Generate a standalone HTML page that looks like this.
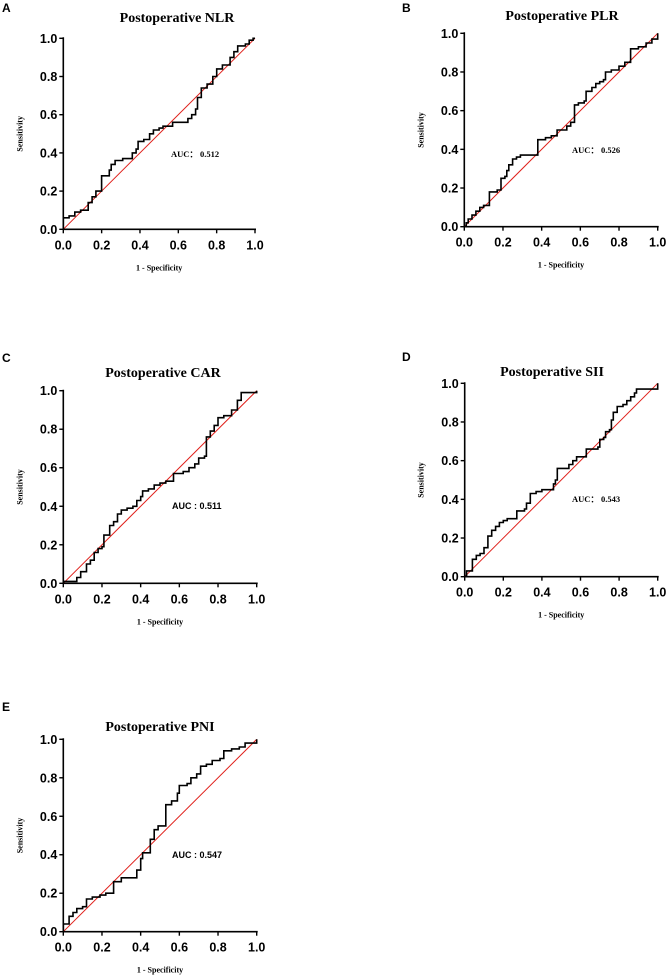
<!DOCTYPE html>
<html><head><meta charset="utf-8"><style>
body{margin:0;background:#fff;}
svg{display:block;}
</style></head><body>
<svg id="fig" width="667" height="977" viewBox="0 0 667 977" xmlns="http://www.w3.org/2000/svg"></svg>
<script>
const ticks = [0, 0.2, 0.4, 0.6, 0.8, 1.0];
const tickLabels = ["0.0","0.2","0.4","0.6","0.8","1.0"];
const titles = ["Postoperative NLR","Postoperative PLR","Postoperative CAR","Postoperative SII","Postoperative PNI"];
const letters = ["A","B","C","D","E"];
const aucs = ["AUC\uFF1A 0.512","AUC\uFF1A 0.526","AUC : 0.511","AUC\uFF1A 0.543","AUC : 0.547"];
const fprA = [0,0,0.03,0.03,0.06,0.06,0.09,0.09,0.13,0.13,0.15,0.15,0.17,0.17,0.2,0.2,0.24,0.24,0.25,0.25,0.27,0.27,0.31,0.31,0.36,0.36,0.38,0.38,0.39,0.39,0.42,0.42,0.45,0.45,0.47,0.47,0.5,0.5,0.52,0.52,0.57,0.57,0.65,0.65,0.67,0.67,0.69,0.69,0.7,0.7,0.72,0.72,0.75,0.75,0.78,0.78,0.8,0.8,0.83,0.83,0.87,0.87,0.89,0.89,0.91,0.91,0.95,0.95,0.97,0.97,0.99,0.99,1];
const tprA = [0,0.06,0.06,0.07,0.07,0.09,0.09,0.1,0.1,0.14,0.14,0.17,0.17,0.2,0.2,0.28,0.28,0.31,0.31,0.34,0.34,0.36,0.36,0.37,0.37,0.4,0.4,0.42,0.42,0.46,0.46,0.47,0.47,0.5,0.5,0.52,0.52,0.53,0.53,0.54,0.54,0.56,0.56,0.58,0.58,0.6,0.6,0.63,0.63,0.69,0.69,0.74,0.74,0.76,0.76,0.8,0.8,0.84,0.84,0.86,0.86,0.9,0.9,0.93,0.93,0.96,0.96,0.97,0.97,0.99,0.99,1,1];
const fprB = [0,0.01,0.02,0.04,0.06,0.08,0.1,0.13,0.13,0.17,0.19,0.19,0.21,0.22,0.23,0.25,0.27,0.29,0.38,0.38,0.42,0.45,0.48,0.48,0.51,0.53,0.55,0.57,0.57,0.59,0.62,0.63,0.66,0.68,0.7,0.72,0.73,0.76,0.8,0.83,0.86,0.86,0.9,0.94,0.97,1,1];
const tprB = [0,0.02,0.04,0.06,0.08,0.1,0.11,0.12,0.18,0.19,0.2,0.25,0.26,0.29,0.32,0.35,0.36,0.37,0.37,0.45,0.46,0.47,0.47,0.5,0.5,0.52,0.54,0.54,0.63,0.64,0.65,0.7,0.72,0.74,0.75,0.76,0.8,0.81,0.83,0.85,0.86,0.92,0.93,0.95,0.97,0.99,1];
const fprC = [0,0,0.07,0.07,0.09,0.09,0.12,0.12,0.14,0.16,0.18,0.2,0.21,0.23,0.24,0.26,0.28,0.3,0.33,0.36,0.38,0.4,0.41,0.44,0.47,0.5,0.53,0.57,0.57,0.62,0.65,0.68,0.7,0.73,0.74,0.74,0.76,0.78,0.8,0.83,0.87,0.9,0.9,0.92,0.97,1];
const tprC = [0,0.01,0.01,0.03,0.03,0.06,0.06,0.1,0.12,0.16,0.18,0.19,0.25,0.25,0.3,0.32,0.36,0.38,0.39,0.4,0.43,0.45,0.48,0.49,0.51,0.52,0.53,0.53,0.57,0.58,0.6,0.62,0.65,0.66,0.73,0.76,0.79,0.82,0.86,0.87,0.9,0.91,0.95,0.99,0.99,1];
const fprD = [0,0.01,0.04,0.04,0.06,0.08,0.1,0.12,0.12,0.14,0.16,0.18,0.2,0.22,0.26,0.27,0.31,0.32,0.34,0.34,0.37,0.4,0.45,0.46,0.47,0.48,0.53,0.54,0.56,0.58,0.62,0.63,0.66,0.69,0.7,0.72,0.73,0.75,0.76,0.77,0.79,0.82,0.84,0.86,0.88,0.89,0.97,1,1];
const tprD = [0,0.03,0.04,0.09,0.11,0.12,0.15,0.16,0.21,0.24,0.26,0.28,0.29,0.3,0.3,0.34,0.35,0.38,0.39,0.43,0.44,0.45,0.45,0.48,0.5,0.56,0.56,0.58,0.6,0.62,0.62,0.66,0.66,0.67,0.71,0.72,0.75,0.76,0.81,0.85,0.88,0.89,0.91,0.93,0.95,0.97,0.97,0.99,1];
const fprE = [0,0,0.03,0.03,0.05,0.07,0.1,0.12,0.15,0.19,0.22,0.26,0.26,0.3,0.38,0.38,0.4,0.41,0.45,0.45,0.47,0.49,0.53,0.53,0.56,0.59,0.6,0.64,0.66,0.69,0.71,0.74,0.77,0.81,0.83,0.87,0.91,0.94,0.98,1,1];
const tprE = [0,0.04,0.04,0.08,0.1,0.12,0.13,0.17,0.18,0.19,0.2,0.21,0.26,0.28,0.28,0.32,0.38,0.41,0.42,0.48,0.53,0.55,0.56,0.66,0.68,0.72,0.76,0.77,0.8,0.82,0.86,0.87,0.89,0.9,0.94,0.95,0.96,0.98,0.98,0.99,1];
const seriesX = [fprA,fprB,fprC,fprD,fprE];
const seriesY = [tprA,tprB,tprC,tprD,tprE];

const layouts = [
 {x0:63.3,x1:255,y0:229.3,y1:38.3,tx:177,ty:22,ax:171,ay:157,lx:2,ly:12},
 {x0:464.3,x1:657.7,y0:226.7,y1:33.3,tx:562,ty:20,ax:572,ay:153,lx:402,ly:12},
 {x0:63.3,x1:256.7,y0:583.3,y1:390.7,tx:163,ty:377,ax:172,ay:509,lx:2,ly:362},
 {x0:464.7,x1:657.7,y0:576.7,y1:383.3,tx:552,ty:376,ax:572,ay:502,lx:402,ly:361},
 {x0:63.3,x1:256.7,y0:931.7,y1:739.3,tx:160,ty:731,ax:172,ay:858,lx:2,ly:711}
];
const NS="http://www.w3.org/2000/svg";
const svg=document.getElementById('fig');
function mk(tag,attrs,parent,text){const e=document.createElementNS(NS,tag);for(const k in attrs)e.setAttribute(k,attrs[k]);if(text!==undefined)e.textContent=text;parent.appendChild(e);return e;}

layouts.forEach((L,i)=>{
  const g=mk('g',{},svg);
  
  
  const sx=v=>L.x0+v*(L.x1-L.x0);
  const sy=v=>L.y0+v*(L.y1-L.y0);
  const lt=mk('text',{x:L.lx,y:L.ly,'font-family':'Liberation Sans, sans-serif','font-weight':'bold','font-size':'12'},g,letters[i]);
  
  
  const t=mk('text',{x:L.tx,y:L.ty,'text-anchor':'middle','font-family':'Liberation Serif, serif','font-weight':'bold','font-size':'14'},g,titles[i]);
  
  
  const ref=mk('line',{x1:sx(0),y1:sy(0),x2:sx(1),y2:sy(1),stroke:'#e0201b','stroke-width':'1'},g);
  
  
  const xs=seriesX[i], ys=seriesY[i];
  let d='M'+sx(xs[0]).toFixed(1)+' '+sy(ys[0]).toFixed(1);
  for(let k=1;k<xs.length;k++){d+=' H'+sx(xs[k]).toFixed(1)+' V'+sy(ys[k]).toFixed(1);}
  const p=mk('path',{d:d,fill:'none',stroke:'#000','stroke-width':'1.6','stroke-linejoin':'miter'},g);
  
  
  const xa=mk('line',{x1:L.x0,y1:L.y0,x2:L.x1+1,y2:L.y0,stroke:'#000','stroke-width':'1.6'},g);
  
  
  const ya=mk('line',{x1:L.x0,y1:L.y0,x2:L.x0,y2:L.y1-1,stroke:'#000','stroke-width':'1.6'},g);
  
  
  ticks.forEach((v,k)=>{
    mk('line',{x1:sx(v),y1:L.y0,x2:sx(v),y2:L.y0+4,stroke:'#000','stroke-width':'1.4'},g);
    mk('line',{x1:L.x0,y1:sy(v),x2:L.x0-4,y2:sy(v),stroke:'#000','stroke-width':'1.4'},g);
    const xl=mk('text',{x:sx(v),y:L.y0+20,'text-anchor':'middle','font-family':'Liberation Sans, sans-serif','font-weight':'bold','font-size':'12.5'},g,tickLabels[k]);
    
    
    const yl=mk('text',{x:L.x0-6,y:sy(v)+4.5,'text-anchor':'end','font-family':'Liberation Sans, sans-serif','font-weight':'bold','font-size':'12.5'},g,tickLabels[k]);
    
    
  });
  const xt=mk('text',{x:(L.x0+L.x1)/2,y:L.y0+41,'text-anchor':'middle','font-family':'Liberation Serif, serif','font-weight':'bold','font-size':'8'},g,'1 - Specificity');
  
  
  const cy=(L.y0+L.y1)/2, cx=L.x0-41;
  const yt=mk('text',{x:cx,y:cy,transform:'rotate(-90 '+cx+' '+cy+')','text-anchor':'middle','font-family':'Liberation Serif, serif','font-weight':'bold','font-size':'8'},g,'Sensitivity');
  
  
  const sans=(i===2||i===4);
  const at=mk('text',{x:L.ax,y:L.ay,'font-family':sans?'Liberation Sans, sans-serif':'Liberation Serif, serif','font-weight':'bold','font-size':sans?'9':'8.5'},g,aucs[i]);
  
  
});
</script>
</body></html>
